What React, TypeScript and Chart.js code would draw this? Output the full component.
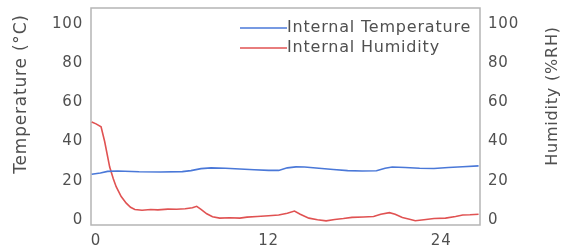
import React, { useEffect, useRef } from "react";
import { Chart, registerables } from "chart.js";

Chart.register(...registerables);

const xTickValues = [0, 12, 24];
const yTickValues = [0, 20, 40, 60, 80, 100];

const tempHours = [-0.3, 0.3, 0.8, 1.5, 3, 4.5, 6, 6.6, 7.3, 8, 9, 10, 11, 12, 12.7, 13.3, 13.9, 14.5, 15.5, 16.5, 17.5, 18.5, 19.5, 20.1, 20.6, 21.5, 22.5, 23.5, 24.5, 25.5, 26.6];
const tempValues = [23.3, 24.0, 24.8, 25.0, 24.6, 24.5, 24.7, 25.2, 26.2, 26.6, 26.4, 26.0, 25.6, 25.3, 25.3, 26.6, 27.1, 27.0, 26.4, 25.8, 25.2, 25.0, 25.1, 26.4, 27.0, 26.8, 26.4, 26.3, 26.8, 27.2, 27.6];

const humHours = [-0.3, 0.0, 0.35, 0.6, 0.95, 1.2, 1.4, 1.75, 2.1, 2.4, 2.7, 3.2, 3.8, 4.3, 5, 5.6, 6.2, 6.7, 7.0, 7.3, 7.7, 8.1, 8.6, 9.3, 10.0, 10.5, 11.2, 12.0, 12.7, 13.3, 13.8, 14.2, 14.8, 15.4, 16.0, 16.6, 17.2, 17.8, 18.6, 19.3, 19.8, 20.4, 20.8, 21.3, 21.8, 22.2, 22.8, 23.5, 24.3, 25.0, 25.5, 26.0, 26.6];
const humValues = [50.0, 49.0, 47.5, 40, 27, 21, 17, 12, 8.6, 6.5, 5.4, 5.0, 5.4, 5.2, 5.6, 5.5, 5.8, 6.3, 7.0, 5.5, 3.2, 1.7, 1.0, 1.2, 1.0, 1.5, 1.8, 2.2, 2.6, 3.5, 4.6, 3.0, 1.0, 0.2, -0.4, 0.3, 0.8, 1.4, 1.6, 1.8, 3.0, 3.8, 3.0, 1.3, 0.4, -0.3, 0.2, 0.8, 1.0, 1.8, 2.6, 2.7, 3.0];

const seriesLabels = ["Internal Temperature", "Internal Humidity"];
const leftTitle = "Temperature (°C)";
const rightTitle = "Humidity (%RH)";

const FONT = "'DejaVu Sans', sans-serif";
const TEXT = "#505050";

const decorPlugin = {
  id: "decor",
  beforeDraw(chart: any) {
    chart.ctx.letterSpacing = "0.8px";
  },
  beforeDatasetsDraw(chart: any) {
    const { ctx, chartArea } = chart;
    ctx.save();
    ctx.strokeStyle = "#b5b5b5";
    ctx.lineWidth = 1.5;
    ctx.strokeRect(chartArea.left, chartArea.top, chartArea.right - chartArea.left, chartArea.bottom - chartArea.top);
    ctx.restore();
  },
  afterDraw(chart: any) {
    const { ctx, chartArea } = chart;
    ctx.save();
    ctx.letterSpacing = "0.8px";
    ctx.fillStyle = TEXT;
    ctx.textAlign = "center";
    ctx.textBaseline = "middle";
    // left title
    ctx.save();
    ctx.font = `17px ${FONT}`;
    ctx.translate(22, chartArea.top + 86);
    ctx.rotate(-Math.PI / 2);
    ctx.fillText(leftTitle, 0, 0);
    ctx.restore();
    // right title
    ctx.save();
    ctx.font = `16px ${FONT}`;
    ctx.translate(553, chartArea.top + 88);
    ctx.rotate(-Math.PI / 2);
    ctx.fillText(rightTitle, 0, 0);
    ctx.restore();
    // legend
    ctx.font = `16px ${FONT}`;
    const x0 = chartArea.right - 240;
    const lineW = 47;
    chart.data.datasets.forEach((ds: any, i: number) => {
      const y = chartArea.top + 20 + i * 20;
      ctx.strokeStyle = ds.borderColor;
      ctx.lineWidth = 1.5;
      ctx.beginPath();
      ctx.moveTo(x0, y);
      ctx.lineTo(x0 + lineW, y);
      ctx.stroke();
      ctx.textAlign = "left";
      ctx.fillStyle = TEXT;
      ctx.fillText(ds.label, x0 + lineW, y);
    });
    ctx.restore();
  },
};

export default function App() {
  const ref = useRef<HTMLCanvasElement>(null);
  useEffect(() => {
    if (!ref.current) return;
    const tempData = tempHours.map((h, i) => ({ x: h, y: tempValues[i] }));
    const humData = humHours.map((h, i) => ({ x: h, y: humValues[i] }));
    const tickFont = { family: FONT, size: 15 };
    const setYTicks = (s: any) => {
      s.ticks = yTickValues.map((v) => ({ value: v }));
    };
    const fitY = (w: number) => (s: any) => {
      s.width = w;
      s.paddingTop = 0;
      s.paddingBottom = 0;
    };
    const chart = new Chart(ref.current, {
      type: "line",
      data: {
        datasets: [
          {
            label: seriesLabels[0],
            data: tempData,
            borderColor: "#4a78d8",
            borderWidth: 1.6,
            pointRadius: 0,
            tension: 0,
            yAxisID: "y",
          },
          {
            label: seriesLabels[1],
            data: humData,
            borderColor: "#e05252",
            borderWidth: 1.6,
            pointRadius: 0,
            tension: 0,
            yAxisID: "y1",
          },
        ],
      },
      options: {
        animation: false,
        responsive: true,
        maintainAspectRatio: false,
        layout: { autoPadding: false, padding: { top: 8, left: 0, right: 0, bottom: 0 } },
        plugins: { legend: { display: false }, title: { display: false }, tooltip: { enabled: false } },
        scales: {
          x: {
            type: "linear",
            min: -0.35,
            max: 26.7,
            grid: { display: false, drawTicks: false },
            border: { display: false },
            afterBuildTicks: (s: any) => {
              s.ticks = xTickValues.map((v) => ({ value: v }));
            },
            afterFit: (s: any) => {
              s.height = 27;
              s.paddingLeft = 0;
              s.paddingRight = 0;
            },
            ticks: { font: tickFont, color: TEXT, padding: 7, maxRotation: 0, autoSkip: false },
          },
          y: {
            type: "linear",
            position: "left",
            min: -2.5,
            max: 108,
            grid: { display: false, drawTicks: false },
            border: { display: false },
            afterBuildTicks: setYTicks,
            afterFit: fitY(91),
            ticks: { font: tickFont, color: TEXT, padding: 8 },
          },
          y1: {
            type: "linear",
            position: "right",
            min: -2.5,
            max: 108,
            grid: { display: false, drawTicks: false },
            border: { display: false },
            afterBuildTicks: setYTicks,
            afterFit: fitY(85),
            ticks: { font: tickFont, color: TEXT, padding: 8 },
          },
        },
      },
      plugins: [decorPlugin],
    } as any);
    return () => chart.destroy();
  }, []);
  return (
    <div style={{ position: "fixed", left: 0, top: 0, width: 565, height: 252, background: "#fff" }}>
      <canvas ref={ref} />
    </div>
  );
}
